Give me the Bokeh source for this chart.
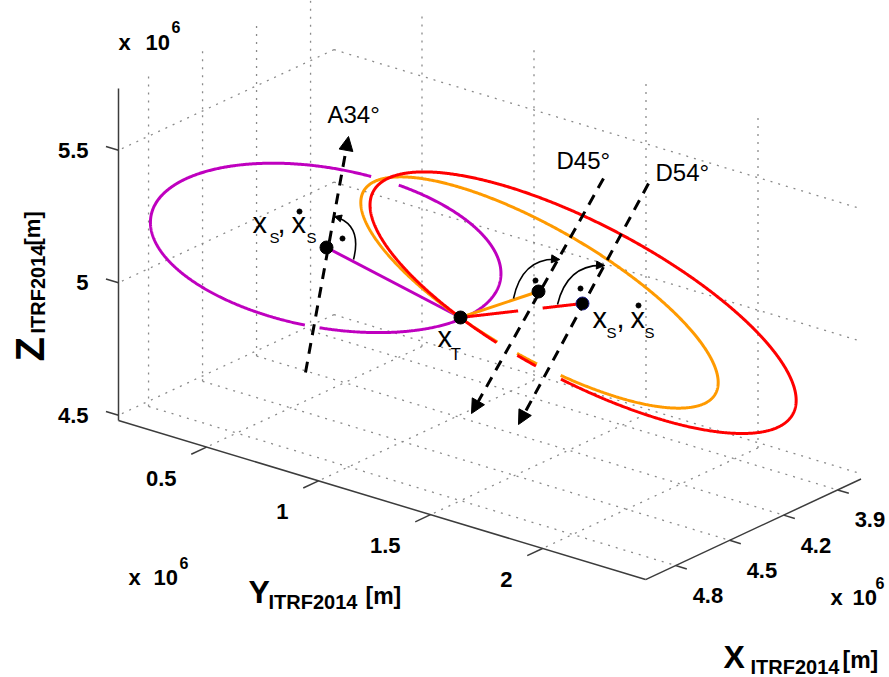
import numpy as np
from bokeh.plotting import figure
from bokeh.models import Range1d, Arrow, NormalHead
from bokeh.core.properties import value
from bokeh.embed import file_html
from bokeh.resources import INLINE

# ---------------- data ----------------
X_LIM = [3.77, 4.967]          # x 10^6 m
Y_LIM = [0.107, 2.46]
Z_LIM = [4.48, 5.733]
X_TICKS = [3.9, 4.2, 4.5, 4.8]
Y_TICKS = [0.5, 1.0, 1.5, 2.0]
Z_TICKS = [4.5, 5.0, 5.5]
X_TICK_LABELS = ["3.9", "4.2", "4.5", "4.8"]
Y_TICK_LABELS = ["0.5", "1", "1.5", "2"]
Z_TICK_LABELS = ["4.5", "5", "5.5"]

# ground-track ellipses in the projected view: magenta (A34), orange (D45), red (D54)
TRACK_NAMES = ["A34", "D45", "D54"]
TRACK_CX = [325.2, 539.0, 582.6]
TRACK_CY = [247.4, 292.0, 302.2]
TRACK_A = [177.6, 203.0, 237.5]
TRACK_B = [79.7, 64.0, 78.1]
TRACK_TILT_DEG = [10.42, 30.0, 27.89]

# gaps (track passes behind): centre x, centre y, radius
MAG_GAPS = [(384, 181, 14), (312, 324, 7)]
ORG_GAPS = [(506, 348, 11), (548, 370, 13)]
RED_GAPS = [(506, 349, 11), (548, 372, 13)]
RED_LINK_GAPS = [(530, 309, 12)]

# positions of receiver / satellites
XT = (460, 317)
XS_MAG = (326, 247)
XS_ORG = (538, 291)
XS_RED = (582, 303)

# line-of-sight directions (start, end)
LOS_A34 = ((305, 372), (348, 136))
LOS_D45 = ((603, 178), (471, 413))
LOS_D54 = ((648, 183), (518, 424))

MAGENTA = "#bf00bf"
ORANGE = "#ff9a00"
RED = "#ff0000"
FONT = value("Liberation Sans")

# ---------------- view projection ----------------
ORIGIN = (118.0, 420.0)
EX = (-180.0, 84.0)
EY = (224.0, 67.6)
EZ = (0.0, -265.0)


def proj(X, Y, Z):
    dx, dy, dz = X - X_LIM[1], Y - Y_LIM[0], Z - Z_LIM[0]
    return (ORIGIN[0] + dx * EX[0] + dy * EY[0] + dz * EZ[0],
            ORIGIN[1] + dx * EX[1] + dy * EY[1] + dz * EZ[1])


def mid(baseline, size):
    # convert an alphabetic baseline position to the 'middle' anchor
    return baseline - 0.3465 * size


def ellipse_pts(i, gaps, n=900):
    cx, cy, a, b = TRACK_CX[i], TRACK_CY[i], TRACK_A[i], TRACK_B[i]
    th = np.radians(TRACK_TILT_DEG[i])
    t = np.linspace(0, 2 * np.pi, n)
    x = cx + a * np.cos(th) * np.cos(t) - b * np.sin(th) * np.sin(t)
    y = cy + a * np.sin(th) * np.cos(t) + b * np.cos(th) * np.sin(t)
    for gx, gy, r in gaps:
        m = (x - gx) ** 2 + (y - gy) ** 2 < r * r
        x = np.where(m, np.nan, x); y = np.where(m, np.nan, y)
    return x, y


def seg_pts(p0, p1, gaps, n=200):
    x = np.linspace(p0[0], p1[0], n); y = np.linspace(p0[1], p1[1], n)
    for gx, gy, r in gaps:
        m = (x - gx) ** 2 + (y - gy) ** 2 < r * r
        x = np.where(m, np.nan, x); y = np.where(m, np.nan, y)
    return x, y


W, H = 889, 677
p = figure(width=W, height=H, x_range=Range1d(0, W), y_range=Range1d(H, 0),
           output_backend="svg", toolbar_location=None,
           x_axis_type=None, y_axis_type=None, min_border=0)
p.outline_line_color = None
p.background_fill_color = "white"

# ---------------- grid ----------------
gx, gy = [], []
x0, x1 = X_LIM; y0, y1 = Y_LIM; z0, z1 = Z_LIM
for xt in X_TICKS:
    for a_, b_ in [((xt, y0, z0), (xt, y1, z0)), ((xt, y0, z0), (xt, y0, z1))]:
        pa, pb = proj(*a_), proj(*b_)
        gx.append([pa[0], pb[0]]); gy.append([pa[1], pb[1]])
for yt in Y_TICKS:
    for a_, b_ in [((x0, yt, z0), (x1, yt, z0)), ((x0, yt, z0), (x0, yt, z1))]:
        pa, pb = proj(*a_), proj(*b_)
        gx.append([pa[0], pb[0]]); gy.append([pa[1], pb[1]])
for zt in Z_TICKS:
    for a_, b_ in [((x0, y0, zt), (x1, y0, zt)), ((x0, y0, zt), (x0, y1, zt))]:
        pa, pb = proj(*a_), proj(*b_)
        gx.append([pa[0], pb[0]]); gy.append([pa[1], pb[1]])
p.multi_line(gx, gy, line_color="#8a8a8a", line_width=1.3, line_dash="2 6")

# ---------------- axes ----------------
ax_x, ax_y = [], []
for a_, b_ in [((x1, y0, z0), (x1, y0, z1)), ((x1, y0, z0), (x1, y1, z0)), ((x1, y1, z0), (x0, y1, z0))]:
    pa, pb = proj(*a_), proj(*b_)
    ax_x.append([pa[0], pb[0]]); ax_y.append([pa[1], pb[1]])
tx, ty = [], []
for zt in Z_TICKS:
    pa, pb = proj(x1, y0, zt), proj(x1, y0 - 0.056, zt)
    tx.append([pa[0], pb[0]]); ty.append([pa[1], pb[1]])
for yt in Y_TICKS:
    pa, pb = proj(x1, yt, z0), proj(x1 + 0.085, yt, z0)
    tx.append([pa[0], pb[0]]); ty.append([pa[1], pb[1]])
for xt in X_TICKS:
    pa, pb = proj(xt, y1, z0), proj(xt, y1 + 0.05, z0)
    tx.append([pa[0], pb[0]]); ty.append([pa[1], pb[1]])
p.multi_line(ax_x + tx, ax_y + ty, line_color="#3c3c3c", line_width=1.5)

# tick labels
zl = [proj(x1, y0, z) for z in Z_TICKS]
p.text([q[0] - 30 for q in zl], [q[1] for q in zl], text=Z_TICK_LABELS, text_font=FONT,
       text_font_style="bold", text_font_size="22px", text_align="right", text_baseline="middle")
yl = [proj(x1, y, z0) for y in Y_TICKS]
p.text([q[0] - 30 for q in yl], [q[1] + 31 for q in yl], text=Y_TICK_LABELS, text_font=FONT,
       text_font_style="bold", text_font_size="22px", text_align="right", text_baseline="middle")
xl = [proj(x, y1, z0) for x in X_TICKS]
p.text([q[0] + 17 for q in xl], [q[1] + 30 for q in xl], text=X_TICK_LABELS, text_font=FONT,
       text_font_style="bold", text_font_size="22px", text_align="left", text_baseline="middle")

# exponent labels
p.text([118, 128, 830], [mid(50, 22), mid(585, 22), mid(605, 22)], text=["x", "x", "x"],
       text_font=FONT, text_font_style="bold", text_font_size="22px", text_baseline="middle")
p.text([145, 153, 852], [mid(50, 22), mid(585, 22), mid(605, 22)], text=["10", "10", "10"],
       text_font=FONT, text_font_style="bold", text_font_size="22px", text_baseline="middle")
p.text([171, 179, 875], [mid(32, 16), mid(568, 16), mid(588, 16)], text=["6", "6", "6"],
       text_font=FONT, text_font_style="bold", text_font_size="16px", text_baseline="middle")

# axis titles
p.text([248, 723], [mid(603, 32), mid(668, 32)], text=["Y", "X"], text_font=FONT,
       text_font_style="bold", text_font_size="32px", text_baseline="middle")
p.text([268, 750], [mid(608, 20), mid(673, 20)], text=["ITRF2014", "ITRF2014"], text_font=FONT,
       text_font_style="bold", text_font_size="20px", text_baseline="middle")
p.text([365, 842], [mid(603, 23), mid(667, 23)], text=["[m]", "[m]"], text_font=FONT,
       text_font_style="bold", text_font_size="23px", text_baseline="middle")
p.text([29], [361], text=["Z"], angle=np.pi / 2, text_font=FONT, text_font_style="bold",
       text_font_size="40px", text_baseline="middle")
p.text([37.5], [333], text=["ITRF2014"], angle=np.pi / 2, text_font=FONT, text_font_style="bold",
       text_font_size="20px", text_baseline="middle")
p.text([32], [245], text=["[m]"], angle=np.pi / 2, text_font=FONT, text_font_style="bold",
       text_font_size="22px", text_baseline="middle")

# ---------------- tracks ----------------
mx_, my_ = ellipse_pts(0, MAG_GAPS)
p.line(mx_, my_, line_color=MAGENTA, line_width=3)
p.line([XS_MAG[0], XT[0]], [XS_MAG[1], XT[1]], line_color=MAGENTA, line_width=3)

ox_, oy_ = ellipse_pts(1, ORG_GAPS)
p.line(ox_, oy_, line_color=ORANGE, line_width=3)
p.line([XT[0], XS_ORG[0]], [XT[1], XS_ORG[1]], line_color=ORANGE, line_width=3)

rx_, ry_ = ellipse_pts(2, RED_GAPS)
p.line(rx_, ry_, line_color=RED, line_width=3)
lx, ly = seg_pts(XT, XS_RED, RED_LINK_GAPS)
p.line(lx, ly, line_color=RED, line_width=3)

# ---------------- line-of-sight arrows ----------------
for (s, e) in [LOS_A34, LOS_D45, LOS_D54]:
    p.add_layout(Arrow(end=NormalHead(size=14, fill_color="black", line_color="black"),
                       x_start=s[0], y_start=s[1], x_end=e[0], y_end=e[1],
                       line_width=3, line_dash="11 8", line_color="black"))

# right-angle arcs
ARC_X0 = [334, 513, 557]; ARC_Y0 = [216, 298, 304]
ARC_CX = [362, 522, 567]; ARC_CY = [224, 256, 263]
ARC_X1 = [353, 559, 604]; ARC_Y1 = [259, 259, 265]
p.quadratic(x0=ARC_X0, y0=ARC_Y0, x1=ARC_X1, y1=ARC_Y1, cx=ARC_CX, cy=ARC_CY,
            line_color="black", line_width=1.6)
for i in (1, 2):
    p.add_layout(Arrow(end=NormalHead(size=8, fill_color="black", line_color="black"),
                       x_start=ARC_CX[i], y_start=ARC_CY[i], x_end=ARC_X1[i], y_end=ARC_Y1[i],
                       line_alpha=0))
p.add_layout(Arrow(end=NormalHead(size=7, fill_color="black", line_color="black"),
                   x_start=ARC_CX[0], y_start=ARC_CY[0], x_end=ARC_X0[0], y_end=ARC_Y0[0], line_alpha=0))
p.scatter([342, 535, 580, 299, 638], [238, 280, 288, 211, 305], size=5, color="black")

# satellite / receiver markers
p.scatter([XT[0], XS_MAG[0], XS_ORG[0]], [XT[1], XS_MAG[1], XS_ORG[1]], size=13, color="black")
p.scatter([XS_RED[0]], [XS_RED[1]], size=13, fill_color="black", line_color="#1a1a80", line_width=1)

# ---------------- annotations ----------------
p.text([327, 556, 655], [mid(122, 24), mid(168, 24), mid(180, 24)], text=["A34°", "D45°", "D54°"],
       text_font=FONT, text_font_size="24px", text_baseline="middle")
p.text([252, 291, 437, 592, 630], [mid(233, 29), mid(233, 29), mid(347, 29), mid(328, 29), mid(328, 29)],
       text=["x", "x", "x", "x", "x"], text_font=FONT, text_font_size="29px", text_baseline="middle")
p.text([269, 306, 606, 644], [mid(242, 15), mid(242, 15), mid(337, 15), mid(337, 15)],
       text=["S", "S", "S", "S"], text_font=FONT, text_font_size="15px", text_baseline="middle")
p.text([450], [mid(360, 17)], text=["T"], text_font=FONT, text_font_size="17px", text_baseline="middle")
p.text([277, 616], [mid(233, 29), mid(328, 29)], text=[",", ","], text_font=FONT, text_font_size="29px",
       text_baseline="middle")

open("out.html", "w").write(file_html(p, INLINE))
